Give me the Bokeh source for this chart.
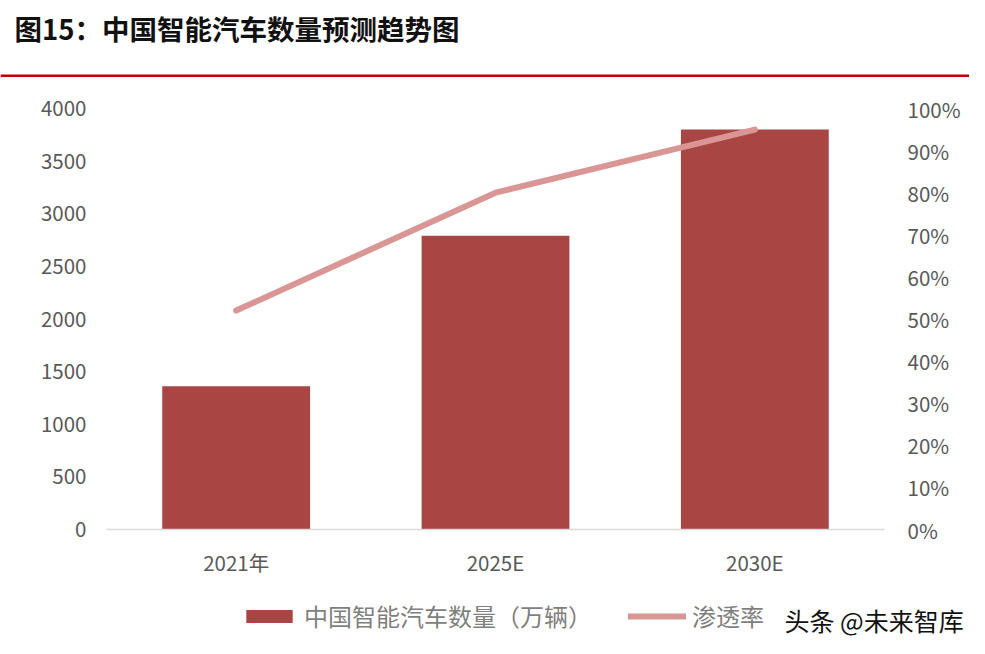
from bokeh.plotting import figure
from bokeh.models import (Range1d, LinearAxis, FixedTicker, NumeralTickFormatter,
                          Legend, LegendItem, Title, Label, BoxAnnotation)
from bokeh.layouts import column
from bokeh.embed import file_html
from bokeh.resources import INLINE

# ---- data ----
title_text = "图15：中国智能汽车数量预测趋势图"
categories = ["2021年", "2025E", "2030E"]
vehicles = [1360, 2790, 3800]          # 中国智能汽车数量（万辆）
rates = [0.52, 0.80, 0.95]             # 渗透率
bar_name = "中国智能汽车数量（万辆）"
line_name = "渗透率"
left_ticks = [0, 500, 1000, 1500, 2000, 2500, 3000, 3500, 4000]
right_ticks = [0, 0.1, 0.2, 0.3, 0.4, 0.5, 0.6, 0.7, 0.8, 0.9, 1.0]
watermark = "头条 @未来智库"

FONT = "Noto Sans CJK SC"
BAR_COLOR = "#A84644"
LINE_COLOR = "#D99694"
TICK_COLOR = "#595959"
RULE_COLOR = "#C00000"
W = 969
BL, BR = 106, 85


def bare(fig):
    fig.axis.visible = False
    fig.grid.visible = False
    fig.outline_line_color = None


def no_align(fig):
    try:
        fig.frame_align = False
        return True
    except AttributeError:
        return False


# ---- title row (title above, red rule at the bottom of its frame) ----
title_fig = figure(width=W, height=77, output_backend="svg", toolbar_location=None,
                   x_range=Range1d(0, 1), y_range=Range1d(0, 1),
                   min_border_left=0, min_border_right=0, min_border_top=0,
                   min_border_bottom=0)
bare(title_fig)
title_fig.background_fill_color = "white"
title_fig.border_fill_color = "white"
t_free = no_align(title_fig)
t_off = 0 if t_free else BL
title_fig.title = Title(text=title_text, align="left", offset=14 - t_off,
                        vertical_align="middle", standoff=12,
                        text_font=FONT, text_font_size="27.5px", text_font_style="bold",
                        text_color="#111111")
title_fig.add_layout(BoxAnnotation(bottom=0, top=3, bottom_units="screen", top_units="screen",
                                   fill_color=RULE_COLOR, fill_alpha=1, line_color=None))

# ---- main chart ----
p = figure(width=W, height=502, output_backend="svg", toolbar_location=None,
           x_range=categories, y_range=Range1d(0, 4000),
           min_border_left=BL, min_border_right=BR, min_border_top=31, min_border_bottom=50)
p.extra_y_ranges = {"pct": Range1d(0, 1)}
p.grid.visible = False
p.outline_line_color = None
p.background_fill_color = "white"
p.border_fill_color = "white"

bars = p.vbar(x=categories, top=vehicles, width=0.57, fill_color=BAR_COLOR, line_color=None)
line = p.line(x=categories, y=rates, y_range_name="pct", line_width=6,
              line_color=LINE_COLOR, line_cap="round", line_join="round")

ya = p.yaxis[0]
ya.ticker = FixedTicker(ticks=left_ticks)
ra = LinearAxis(y_range_name="pct", ticker=FixedTicker(ticks=right_ticks),
                formatter=NumeralTickFormatter(format="0%"))
p.add_layout(ra, "right")

for ax in (ya, ra):
    ax.axis_line_color = None
    ax.major_tick_line_color = None
    ax.minor_tick_line_color = None
    ax.major_tick_in = 0
    ax.major_tick_out = 0
    ax.minor_tick_in = 0
    ax.minor_tick_out = 0
    ax.major_label_text_font = FONT
    ax.major_label_text_font_size = "20.5px"
    ax.major_label_text_color = TICK_COLOR
ya.major_label_standoff = 20
ra.major_label_standoff = 23

xa = p.xaxis[0]
xa.axis_line_color = "#D9D9D9"
xa.axis_line_width = 1.5
xa.major_tick_line_color = None
xa.major_tick_in = 0
xa.major_tick_out = 0
xa.major_label_text_font = FONT
xa.major_label_text_font_size = "20.5px"
xa.major_label_text_color = TICK_COLOR
xa.major_label_standoff = 17

# ---- legend row (hidden copies of the two series provide the key glyphs) ----
LH = 73
lg = figure(width=W, height=LH, output_backend="svg", toolbar_location=None,
            x_range=categories, y_range=Range1d(0, 4000),
            min_border_left=0, min_border_right=0, min_border_top=0, min_border_bottom=0)
bare(lg)
lg.background_fill_color = "white"
lg.border_fill_color = "white"
free = no_align(lg)
lb = lg.vbar(x=categories, top=vehicles, width=0.57, fill_color=BAR_COLOR, line_color=None,
             visible=False)
lgl = lg.line(x=categories, y=rates, line_width=6, line_color=LINE_COLOR, line_cap="round",
              visible=False)
off = 0 if free else BL
legend = Legend(items=[LegendItem(label=bar_name, renderers=[lb]),
                       LegendItem(label=line_name, renderers=[lgl])],
                orientation="horizontal", location=(240 - off, 19),
                border_line_color=None, background_fill_alpha=0,
                inactive_fill_alpha=0,
                label_text_font=FONT, label_text_font_size="24px",
                label_text_color="#7F7F7F", glyph_width=58, glyph_height=16,
                label_standoff=6, spacing=36, padding=0, margin=0)
lg.add_layout(legend)
lg.add_layout(Label(x=784 - off, y=33, x_units="screen", y_units="screen", text=watermark,
                    text_font=FONT, text_font_size="25px", text_color="#111111",
                    text_baseline="middle"))

layout = column(title_fig, p, lg, spacing=0)
open("out.html", "w").write(file_html(layout, INLINE))
